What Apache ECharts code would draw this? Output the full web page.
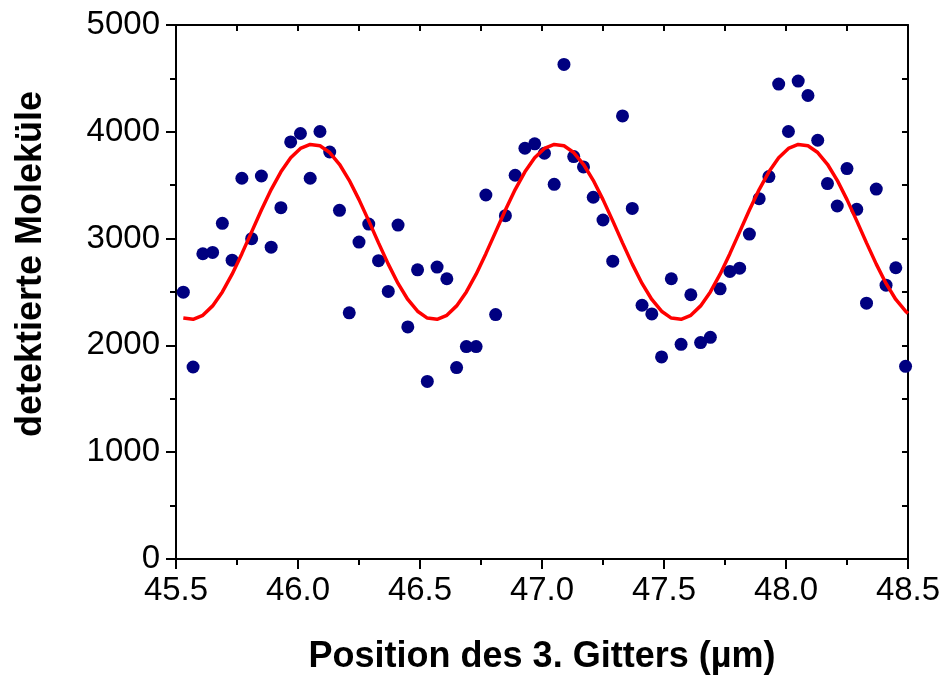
<!DOCTYPE html>
<html>
<head>
<meta charset="utf-8">
<script src="https://cdn.jsdelivr.net/npm/echarts@6/dist/echarts.min.js"></script>
<style>
html,body{margin:0;padding:0;background:#fff;}
#chart{width:945px;height:681px;}
</style>
</head>
<body>
<div id="chart"></div>
<script>
// Positions of the 3rd grating (µm)
var posX = [45.53,45.57,45.61,45.65,45.69,45.73,45.77,45.81,45.85,45.89,
  45.93,45.97,46.01,46.05,46.09,46.13,46.17,46.21,46.25,46.29,
  46.33,46.37,46.41,46.45,46.49,46.53,46.57,46.61,46.65,46.69,
  46.73,46.77,46.81,46.85,46.89,46.93,46.97,47.01,47.05,47.09,
  47.13,47.17,47.21,47.25,47.29,47.33,47.37,47.41,47.45,47.49,
  47.53,47.57,47.61,47.65,47.69,47.73,47.77,47.81,47.85,47.89,
  47.93,47.97,48.01,48.05,48.09,48.13,48.17,48.21,48.25,48.29,
  48.33,48.37,48.41,48.45,48.49];
// Detected molecules (measured)
var counts = [2498,1798,2858,2871,3143,2798,3565,2999,3586,2920,
  3290,3905,3984,3565,4003,3811,3265,2305,2967,3136,
  2793,2505,3127,2173,2708,1663,2733,2624,1792,1989,
  1989,3408,2289,3215,3593,3846,3887,3799,3508,4631,
  3768,3671,3387,3174,2789,4149,3283,2376,2295,1892,
  2624,2010,2474,2026,2076,2530,2692,2723,3042,3374,
  3581,4447,4003,4475,4340,3921,3515,3305,3656,3274,
  2395,3464,2564,2727,1804];
// Fit curve
var fitX = posX.concat([48.5]);
var fitY = [2256,2244,2282,2370,2501,2667,2859,3063,3267,3459,3625,3756,3844,3882,3869,3806,3696,3546,3365,3166,2960,2761,2580,2430,2320,
  2256,2244,2282,2370,2501,2667,2859,3063,3267,3459,3625,3756,3844,3882,3869,3806,3696,3546,3365,3166,2960,2761,2580,2430,2320,
  2256,2244,2282,2370,2501,2667,2859,3063,3267,3459,3625,3756,3844,3882,3869,3806,3696,3546,3365,3166,2960,2761,2580,2430,2320,
  2300];
var xTitle = 'Position des 3. Gitters (µm)';
var yTitle = 'detektierte Moleküle';

var scatterData = posX.map(function(x,i){return [x,counts[i]];});
var fitData = fitX.map(function(x,i){return [x,fitY[i]];});

var font = '"Liberation Sans", Arial, sans-serif';
var axisLine = {show:true, onZero:false, lineStyle:{color:'#000', width:2}};

var chart = echarts.init(document.getElementById('chart'), null, {renderer:'canvas'});
chart.setOption({
  animation:false,
  backgroundColor:'#fff',
  grid:{left:176, right:37, top:25, bottom:122, containLabel:false},
  xAxis:[{
    type:'value', min:45.5, max:48.5, interval:0.5, position:'bottom',
    axisLine:axisLine,
    axisTick:{show:true, inside:false, length:10, lineStyle:{color:'#000', width:2}},
    minorTick:{show:true, splitNumber:2, length:6, lineStyle:{color:'#000', width:2}},
    splitLine:{show:false},
    axisLabel:{show:true, margin:15, color:'#000', fontSize:33, fontFamily:font,
      formatter:function(v){return v.toFixed(1);}}
  },{
    type:'value', min:45.5, max:48.5, interval:0.5, position:'top',
    axisLine:axisLine,
    axisTick:{show:true, inside:true, length:6, lineStyle:{color:'#000', width:2}},
    minorTick:{show:true, splitNumber:2, length:6, lineStyle:{color:'#000', width:2}},
    splitLine:{show:false}, axisLabel:{show:false}
  }],
  yAxis:[{
    type:'value', min:0, max:5000, interval:1000, position:'left',
    axisLine:axisLine,
    axisTick:{show:true, inside:false, length:10, lineStyle:{color:'#000', width:2}},
    minorTick:{show:true, splitNumber:2, length:6, lineStyle:{color:'#000', width:2}},
    splitLine:{show:false},
    axisLabel:{show:true, margin:16, color:'#000', fontSize:33, fontFamily:font,
      formatter:function(v){return String(v);}}
  },{
    type:'value', min:0, max:5000, interval:1000, position:'right',
    axisLine:axisLine,
    axisTick:{show:true, inside:true, length:6, lineStyle:{color:'#000', width:2}},
    minorTick:{show:true, splitNumber:2, length:6, lineStyle:{color:'#000', width:2}},
    splitLine:{show:false}, axisLabel:{show:false}
  }],
  graphic:[{
    type:'text', x:542, y:657,
    style:{text:xTitle, x:0, y:0, textAlign:'center', textVerticalAlign:'middle',
      font:'bold 36px ' + font, fill:'#000'}
  },{
    type:'text', x:31, y:264, rotation:Math.PI/2,
    style:{text:yTitle, x:0, y:0, textAlign:'center', textVerticalAlign:'middle',
      font:'bold 36px ' + font, fill:'#000'}
  }],
  series:[{
    type:'scatter', xAxisIndex:0, yAxisIndex:0, data:scatterData,
    symbol:'circle', symbolSize:13, itemStyle:{color:'#000080', opacity:1}, z:2
  },{
    type:'line', xAxisIndex:0, yAxisIndex:0, data:fitData, showSymbol:false, symbol:'none',
    smooth:false, lineStyle:{color:'#ff0000', width:3.5}, z:3, clip:true
  }]
});
</script>
</body>
</html>
